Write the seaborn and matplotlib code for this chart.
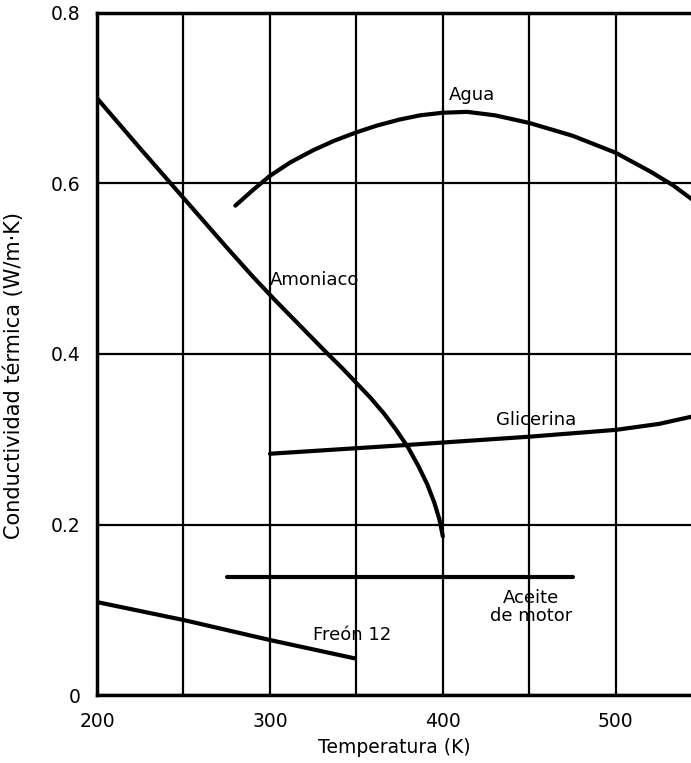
import matplotlib
matplotlib.use("Agg")
import matplotlib.pyplot as plt
import seaborn as sns
import pandas as pd

# Data
amoniaco_T = [200, 225, 250, 275, 290, 303, 318, 333, 342, 350, 358, 366, 373, 380, 386, 391, 395, 398, 400]
amoniaco_k = [0.700, 0.641, 0.583, 0.525, 0.491, 0.463, 0.432, 0.401, 0.383, 0.366, 0.349, 0.330, 0.311,
              0.290, 0.268, 0.247, 0.226, 0.206, 0.186]

agua_T = [280, 290, 300, 312, 325, 337, 350, 362, 375, 387, 400, 414, 430, 450, 475, 500, 520, 533, 545]
agua_k = [0.574, 0.592, 0.609, 0.625, 0.639, 0.650, 0.660, 0.668, 0.675, 0.680, 0.683, 0.684, 0.680,
          0.671, 0.656, 0.636, 0.614, 0.598, 0.580]

glicerina_T = [300, 377, 450, 500, 525, 545]
glicerina_k = [0.283, 0.293, 0.303, 0.311, 0.318, 0.327]

aceite_T = [275, 475]
aceite_k = [0.138, 0.138]

freon_T = [200, 250, 300, 349]
freon_k = [0.109, 0.088, 0.0645, 0.043]

x_ticks = [200, 300, 400, 500]
x_minor = [250, 350, 450]
y_ticks = [0, 0.2, 0.4, 0.6, 0.8]
y_ticklabels = ["0", "0.2", "0.4", "0.6", "0.8"]

labels = {
    "Agua": (417, 0.704, "center"),
    "Amoniaco": (300, 0.487, "left"),
    "Glicerina": (431, 0.323, "left"),
    "Aceite\nde motor": (451, 0.103, "center"),
    "Freón 12": (325, 0.07, "left"),
}

sns.set_theme(style="white")
plt.rcParams["font.family"] = ["DejaVu Sans"]

fig = plt.figure(figsize=(6.91, 7.63), dpi=100)
ax = fig.add_axes([0.1404, 0.0891, 1.0 - 0.1404, 0.983 - 0.0891])

series = [
    (amoniaco_T, amoniaco_k),
    (agua_T, agua_k),
    (glicerina_T, glicerina_k),
    (aceite_T, aceite_k),
    (freon_T, freon_k),
]
for T, k in series:
    df = pd.DataFrame({"T": T, "k": k})
    sns.lineplot(data=df, x="T", y="k", ax=ax, color="black", linewidth=3.0,
                 estimator=None, sort=False)
for line in ax.lines:
    line.set_solid_joinstyle("round")
    line.set_solid_capstyle("round")

ax.set_xlim(200, 543.5)
ax.set_ylim(0, 0.8)
ax.set_xticks(x_ticks)
ax.set_xticks(x_minor, minor=True)
ax.set_yticks(y_ticks)
ax.set_yticklabels(y_ticklabels)
ax.grid(True, which="both", color="black", linewidth=1.6)
ax.set_axisbelow(True)
ax.tick_params(axis="both", which="both", length=0, labelsize=13.5, pad=12, colors="black")

for side in ["left", "bottom", "top"]:
    ax.spines[side].set_visible(True)
    ax.spines[side].set_color("black")
    ax.spines[side].set_linewidth(2.5)
ax.spines["right"].set_visible(False)

ax.set_xlabel("Temperatura (K)", fontsize=13.5, color="black", labelpad=5)
ax.set_ylabel("Conductividad térmica (W/m·K)", fontsize=15, color="black")
ax.yaxis.set_label_coords(-0.123, 0.469)

for txt, (x, y, ha) in labels.items():
    ax.text(x, y, txt, fontsize=13, ha=ha, va="center", color="black", linespacing=1.0)

fig.savefig("out.png", dpi=100, facecolor="white")
